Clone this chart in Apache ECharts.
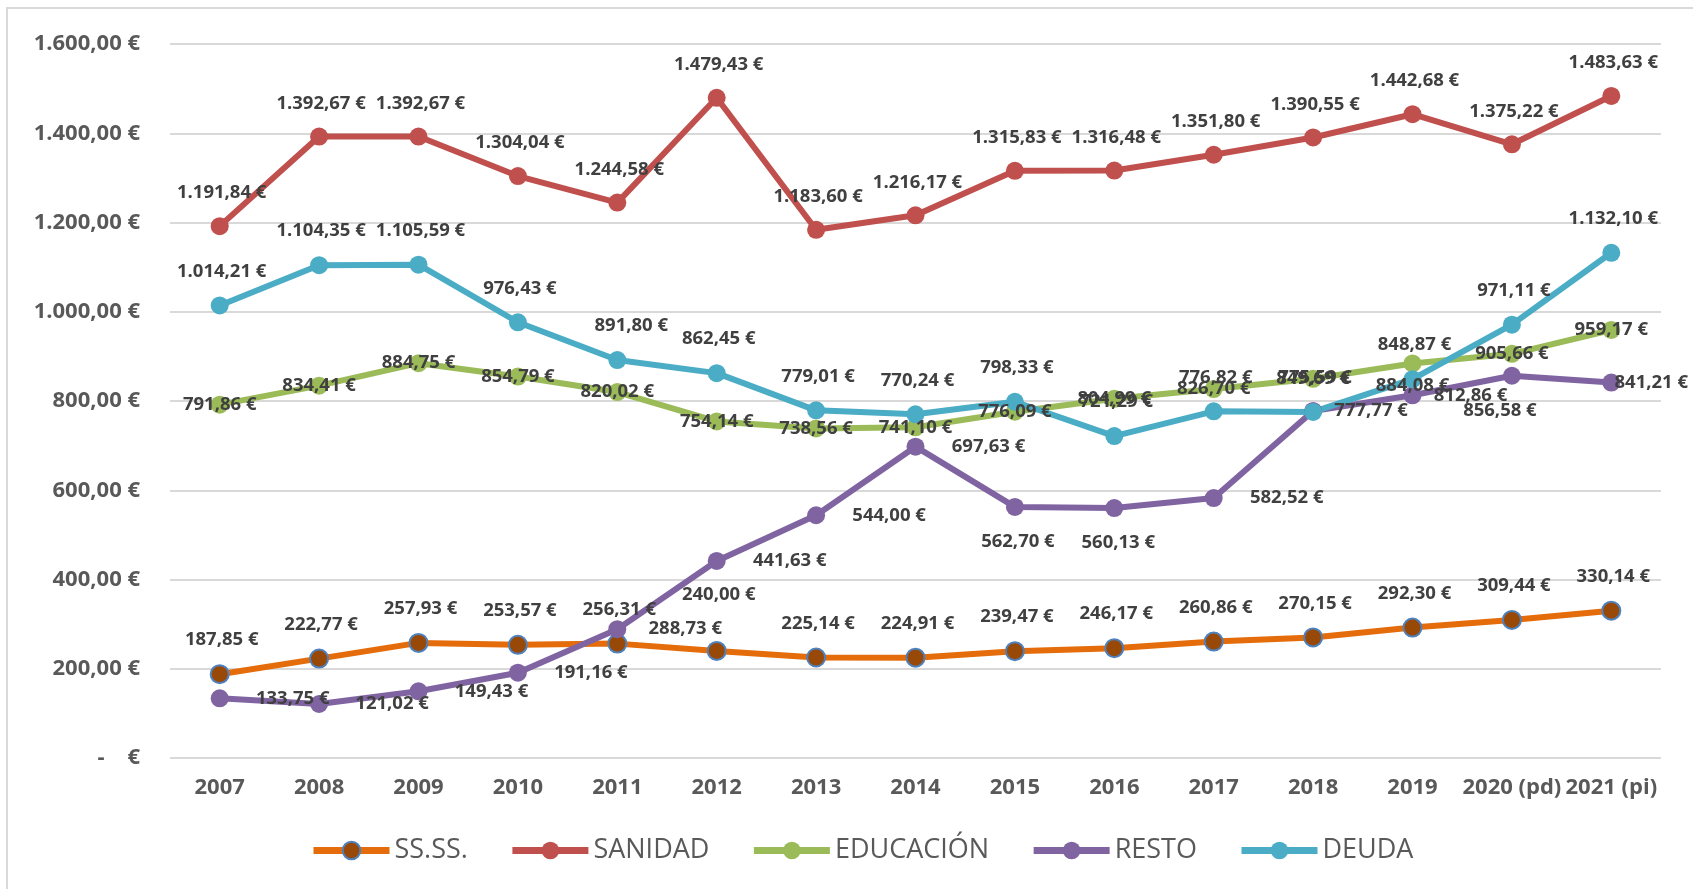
<!DOCTYPE html>
<html>
<head>
<meta charset="utf-8">
<style>
    html, body {margin: 0; padding: 0; background: #fff;}
    #chart {width: 1693px; height: 889px;}
</style>
<script src="https://cdn.jsdelivr.net/npm/echarts@6/dist/echarts.min.js"></script>
</head>
<body>
<div id="chart"></div>
<script>
// datos
let years = ['2007', '2008', '2009', '2010', '2011', '2012', '2013', '2014', '2015', '2016', '2017', '2018', '2019', '2020 (pd)', '2021 (pi)'];
let ssss = [187.85, 222.77, 257.93, 253.57, 256.31, 240.00, 225.14, 224.91, 239.47, 246.17, 260.86, 270.15, 292.30, 309.44, 330.14];
let sanidad = [1191.84, 1392.67, 1392.67, 1304.04, 1244.58, 1479.43, 1183.60, 1216.17, 1315.83, 1316.48, 1351.80, 1390.55, 1442.68, 1375.22, 1483.63];
let educacion = [791.86, 834.41, 884.75, 854.79, 820.02, 754.14, 738.56, 741.10, 776.09, 804.99, 826.70, 849.69, 884.08, 905.66, 959.17];
let resto = [133.75, 121.02, 149.43, 191.16, 288.73, 441.63, 544.00, 697.63, 562.70, 560.13, 582.52, 777.77, 812.86, 856.58, 841.21];
let deuda = [1014.21, 1104.35, 1105.59, 976.43, 891.80, 862.45, 779.01, 770.24, 798.33, 721.29, 776.82, 775.59, 848.87, 971.11, 1132.10];

let euro = (v) => {
    let parts = v.toFixed(2).split('.');
    let ent = parts[0].replace(/\B(?=(\d{3})+(?!\d))/g, '.');
    return ent + ',' + parts[1] + ' €';
};

// donde va cada etiqueta (desplazamiento respecto al punto)
let labelPos = {
    'SS.SS.': {def: [2, -34], 5: [2, -56]},
    'SANIDAD': {def: [2, -33]},
    'EDUCACIÓN': {def: [0, 0], 12: [0, 22]},
    'RESTO': {def: [73, 0], 4: [68, 0], 8: [3, 35], 9: [4, 35], 11: [58, 0], 12: [58, 0], 13: [-12, 35], 14: [40, 0]},
    'DEUDA': {def: [2, -34], 4: [14, -34]}
};

let makeSeries = (name, values, color, markerColor, markerBorder) => {
    let pos = labelPos[name];
    return {
        name: name,
        type: 'line',
        data: values.map((v, i) => ({value: v, label: {offset: pos[i] || pos.def}})),
        symbol: 'circle',
        symbolSize: 18,
        lineStyle: {color: color, width: 6},
        itemStyle: {
            color: markerColor || color,
            borderColor: markerBorder || color,
            borderWidth: markerBorder ? 2 : 0
        },
        label: {
            show: true,
            position: 'inside',
            formatter: (p) => euro(p.value),
            color: '#404040',
            fontFamily: 'Open Sans',
            fontWeight: 'bold',
            fontSize: 18.5
        },
        emphasis: {disabled: true},
        animation: false
    };
};

let chart = echarts.init(document.getElementById('chart'));
let option = {
    backgroundColor: '#fff',
    animation: false,
    graphic: [{
        type: 'rect',
        shape: {x: 7, y: 8, width: 1720, height: 920},
        style: {fill: 'none', stroke: '#d9d9d9', lineWidth: 2},
        silent: true
    }],
    grid: {left: 170, right: 32, top: 44, bottom: 131},
    legend: {
        left: 305,
        top: 832,
        itemWidth: 76,
        itemHeight: 22,
        itemGap: 41,
        lineStyle: {width: 7},
        textStyle: {color: '#595959', fontFamily: 'Open Sans', fontSize: 27},
        data: ['SS.SS.', 'SANIDAD', 'EDUCACIÓN', 'RESTO', 'DEUDA']
    },
    xAxis: {
        type: 'category',
        data: years,
        axisLine: {show: false},
        axisTick: {show: false},
        axisLabel: {
            interval: 0,
            margin: 19,
            color: '#595959',
            fontFamily: 'Open Sans',
            fontWeight: 'bold',
            fontSize: 22
        }
    },
    yAxis: {
        type: 'value',
        min: 0,
        max: 1600,
        interval: 200,
        axisLine: {show: false},
        axisTick: {show: false},
        splitLine: {lineStyle: {color: '#d9d9d9', width: 2}},
        axisLabel: {
            margin: 30,
            color: '#595959',
            fontFamily: 'Open Sans',
            fontWeight: 'bold',
            fontSize: 22,
            formatter: (v) => v === 0 ? '-    €' : euro(v)
        }
    },
    series: [
        makeSeries('SS.SS.', ssss, '#E46C0A', '#984807', '#4F81BD'),
        makeSeries('SANIDAD', sanidad, '#C0504D'),
        makeSeries('EDUCACIÓN', educacion, '#9BBB59'),
        makeSeries('RESTO', resto, '#8064A2'),
        makeSeries('DEUDA', deuda, '#4BACC6')
    ]
};
chart.setOption(option);
</script>
</body>
</html>
